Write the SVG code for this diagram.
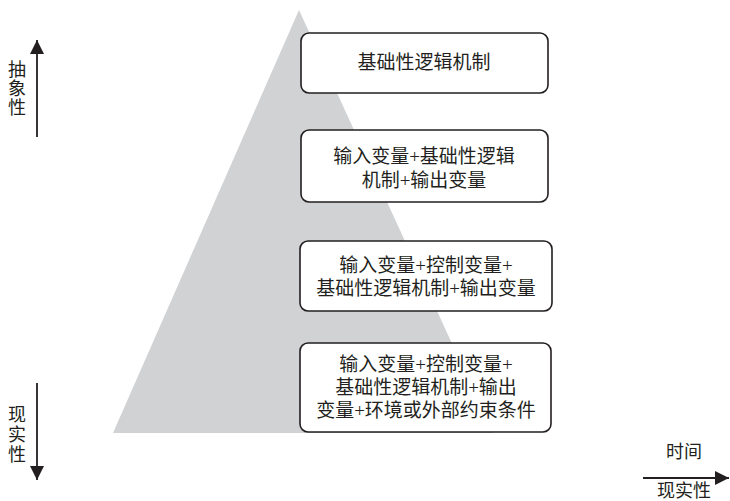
<svg xmlns="http://www.w3.org/2000/svg" width="730" height="501" viewBox="0 0 730 501">
<defs>
<style>
.t{font-family:"Liberation Serif","Noto Sans CJK SC",serif;font-size:19px;fill:#231f20;text-anchor:middle;dominant-baseline:central}
.s{font-family:"Liberation Serif","Noto Sans CJK SC",serif;font-size:18px;fill:#231f20;text-anchor:middle;dominant-baseline:central}
.box{fill:#fff;stroke:#231f20;stroke-width:1.6}
.ln{stroke:#231f20;stroke-width:1.8;fill:none}
</style>
<marker id="ah" viewBox="0 0 10 10" refX="10" refY="5" markerWidth="14" markerHeight="14" markerUnits="userSpaceOnUse" orient="auto">
<path d="M0,0 L10,5 L0,10 Z" fill="#231f20"/>
</marker>
</defs>
<polygon id="pyramid" points="299,10 493,433 113,433" fill="#d1d2d4"/>
<g id="node1"><rect class="box" x="301" y="33" width="247" height="60" rx="8"/><text class="t" x="424" y="62">基础性逻辑机制</text></g>
<g id="node2"><rect class="box" x="301" y="130" width="247" height="72" rx="8"/><text class="t" x="424" y="156">输入变量+基础性逻辑</text><text class="t" x="424" y="180">机制+输出变量</text></g>
<g id="node3"><rect class="box" x="300" y="241" width="252" height="70" rx="8"/><text class="t" x="426" y="265">输入变量+控制变量+</text><text class="t" x="426" y="288">基础性逻辑机制+输出变量</text></g>
<g id="node4"><rect class="box" x="300" y="343" width="251" height="89" rx="8"/><text class="t" x="426" y="364">输入变量+控制变量+</text><text class="t" x="426" y="387">基础性逻辑机制+输出</text><text class="t" x="426" y="410">变量+环境或外部约束条件</text></g>
<g id="connectors">
<line class="ln" x1="37" y1="137" x2="37" y2="40" marker-end="url(#ah)"/>
<line class="ln" x1="37" y1="383" x2="37" y2="480" marker-end="url(#ah)"/>
<line class="ln" x1="643" y1="478" x2="729" y2="478" marker-end="url(#ah)"/>
</g>
<g id="label-abstract"><text class="s" x="17" y="70">抽</text><text class="s" x="17" y="89">象</text><text class="s" x="17" y="108">性</text></g>
<g id="label-real"><text class="s" x="17" y="415">现</text><text class="s" x="17" y="435">实</text><text class="s" x="17" y="455">性</text></g>
<g id="label-time"><text class="s" x="684" y="452">时间</text><text class="s" x="684" y="491">现实性</text></g>
</svg>
